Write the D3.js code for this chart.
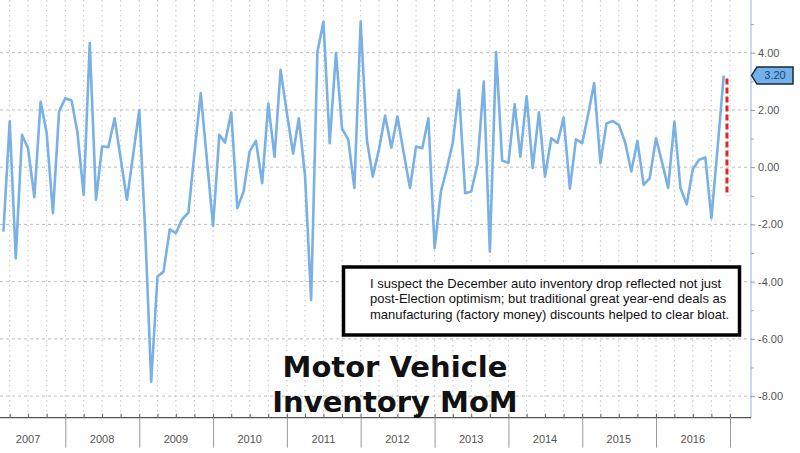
<!DOCTYPE html>
<html>
<head>
<meta charset="utf-8">
<script src="https://cdn.jsdelivr.net/npm/d3@7"></script>
<style>
body { margin: 0; background: #fff; }
svg { display: block; }
</style>
</head>
<body>
<script>
var width = 800;
var height = 453;

// monthly MoM % change, first value is Mar 2007
var startMonth = "2007-03-01";
var inventoryMoM = [
    -2.25, 1.6, -3.18, 1.13, 0.65, -1.05, 2.29, 1.19, -1.61, 1.94,
    2.41, 2.33, 1.22, -0.97, 4.34, -1.14, 0.72, 0.70, 1.71, 0.3, -1.14, 0.4,
    2.0, -2.5, -7.5, -3.82, -3.65, -2.17, -2.31, -1.82, -1.59, 0.5, 2.59, 0.3,
    -2.05, 1.13, 0.86, 1.91, -1.43, -0.85, 0.55, 0.92, -0.56, 2.22, 0.36, 3.40,
    1.9, 0.47, 1.71, -0.3, -4.64, 4.02, 5.09, 0.84, 4.0, 1.35, 0.95, -0.73,
    5.09, 0.95, -0.33, 0.64, 1.8, 0.68, 1.77, 0.5, -0.73, 0.72, 0.66, 1.71,
    -2.83, -0.85, -0.1, 0.87, 2.70, -0.91, -0.85, 0.1, 2.99, -2.95, 4.02, 0.23,
    0.15, 2.2, 0.37, 2.48, -0.03, 1.92, -0.33, 1.01, 0.85, 1.73, -0.75, 0.97,
    0.84, 1.9, 2.94, 0.14, 1.53, 1.61, 1.48, 0.87, -0.15, 0.92, -0.62, -0.38,
    1.01, 0.14, -0.73, 1.59, -0.73, -1.3, -0.07, 0.26, 0.34, -1.78, 0.7, 3.2
];
var yearLabels = ["2007", "2008", "2009", "2010", "2011", "2012", "2013", "2014", "2015", "2016"];
var yTicks = [-8, -6, -4, -2, 0, 2, 4, 6];
var yMinorTicks = [-7, -5, -3, -1, 1, 3, 5];
var lastLabel = "3.20";
var markerDate = "2016-12-17";
var markerRange = [3.1, -1.0];
var titleLines = ["Motor Vehicle", "Inventory MoM"];
var noteLines = [
    "I suspect the December auto inventory drop reflected not just",
    "post-Election optimism; but traditional great year-end deals as",
    "manufacturing (factory money) discounts helped to clear bloat."
];

var parse = d3.timeParse("%Y-%m-%d");
var start = parse(startMonth);
var series = inventoryMoM.map(function(v, i) {
    return { date: d3.timeMonth.offset(start, i), value: v };
});

var plotRight = 751;
var plotBottom = 417.7;

var x = d3.scaleTime()
    .domain([new Date(2007, 0, 1), new Date(2017, 0, 1)])
    .range([-8.5, 730]);
var y = d3.scaleLinear()
    .domain([-8, 4])
    .range([396.1, 52.7]);

var svg = d3.select("body")
    .append("svg")
    .attr("width", width)
    .attr("height", height)
    .style("font-family", "'Liberation Sans', Arial, sans-serif");

// grid
var quarters = d3.timeMonth.every(3).range(new Date(2007, 0, 1), new Date(2017, 0, 2))
    .filter(function(d) { return x(d) >= 0; });

svg.append("g")
    .selectAll("line")
    .data(quarters)
    .enter()
    .append("line")
    .attr("x1", function(d) { return x(d); })
    .attr("x2", function(d) { return x(d); })
    .attr("y1", 0)
    .attr("y2", plotBottom)
    .attr("stroke", "#c4c4c4")
    .attr("stroke-width", 1)
    .attr("stroke-dasharray", "1.5,3.5");

svg.append("g")
    .selectAll("line")
    .data(yTicks)
    .enter()
    .append("line")
    .attr("x1", 0)
    .attr("x2", plotRight)
    .attr("y1", function(d) { return y(d); })
    .attr("y2", function(d) { return y(d); })
    .attr("stroke", "#c2bcb6")
    .attr("stroke-width", 1)
    .attr("stroke-dasharray", "3,3");

// the series
var line = d3.line()
    .x(function(d) { return x(d.date); })
    .y(function(d) { return y(d.value); });

svg.append("path")
    .datum(series)
    .attr("d", line)
    .attr("fill", "none")
    .attr("stroke", "#79b1e4")
    .attr("stroke-width", 2.6)
    .attr("stroke-linejoin", "round");

// red dashed marker
var mx = x(parse(markerDate));
svg.append("line")
    .attr("x1", mx)
    .attr("x2", mx)
    .attr("y1", y(markerRange[0]))
    .attr("y2", y(markerRange[1]))
    .attr("stroke", "#e0262b")
    .attr("stroke-width", 3)
    .attr("stroke-dasharray", "6,3");

// right axis
svg.append("line")
    .attr("x1", plotRight)
    .attr("x2", plotRight)
    .attr("y1", 0)
    .attr("y2", plotBottom)
    .attr("stroke", "#a9c0d6")
    .attr("stroke-width", 1.2);

var yAxis = svg.append("g")
    .attr("transform", "translate(" + plotRight + ",0)")
    .call(d3.axisRight(y)
        .tickValues(yTicks)
        .tickSize(4)
        .tickPadding(3)
        .tickFormat(function(d) { return d.toFixed(2); }));
yAxis.select(".domain").remove();
yAxis.selectAll("line").attr("stroke", "#8a9aaa");
yAxis.selectAll("text")
    .attr("fill", "#555")
    .style("font-size", "11px");

var yMinor = svg.append("g")
    .attr("transform", "translate(" + plotRight + ",0)")
    .call(d3.axisRight(y).tickValues(yMinorTicks).tickSize(3).tickFormat(""));
yMinor.select(".domain").remove();
yMinor.selectAll("line").attr("stroke", "#9aaaba");

// last value tag
var ty = y(inventoryMoM[inventoryMoM.length - 1]);
svg.append("path")
    .attr("d", "M" + (plotRight + 0.5) + "," + ty +
        "L" + (plotRight + 6) + "," + (ty - 8.5) +
        "L793," + (ty - 8.5) +
        "L793," + (ty + 8.5) +
        "L" + (plotRight + 6) + "," + (ty + 8.5) + "Z")
    .attr("fill", "#72b1ea")
    .attr("stroke", "#1d2935")
    .attr("stroke-width", 1.5);
svg.append("text")
    .attr("x", 775)
    .attr("y", ty)
    .attr("dy", "0.35em")
    .attr("text-anchor", "middle")
    .attr("fill", "#1d3f7c")
    .style("font-size", "11px")
    .text(lastLabel);

// bottom axis
svg.append("line")
    .attr("x1", 0)
    .attr("x2", plotRight)
    .attr("y1", plotBottom)
    .attr("y2", plotBottom)
    .attr("stroke", "#555")
    .attr("stroke-width", 1.2);

var qTicks = svg.append("g")
    .attr("transform", "translate(0," + plotBottom + ")")
    .call(d3.axisTop(x).tickValues(quarters).tickSize(4).tickFormat(""));
qTicks.select(".domain").remove();
qTicks.selectAll("line").attr("stroke", "#666");

var yearStarts = yearLabels.map(function(s) { return new Date(+s + 1, 0, 1); });
var dividers = svg.append("g")
    .attr("transform", "translate(0," + plotBottom + ")")
    .call(d3.axisBottom(x).tickValues(yearStarts).tickSize(30).tickFormat(""));
dividers.select(".domain").remove();
dividers.selectAll("line").attr("stroke", "#999");

svg.append("g")
    .selectAll("text")
    .data(yearLabels)
    .enter()
    .append("text")
    .attr("x", function(d) { return x(new Date(+d, 6, 1)); })
    .attr("y", 443)
    .attr("text-anchor", "middle")
    .attr("fill", "#555")
    .style("font-size", "11px")
    .text(function(d) { return d; });

// title
svg.append("g")
    .selectAll("text")
    .data(titleLines)
    .enter()
    .append("text")
    .attr("x", 395)
    .attr("y", function(d, i) { return 376.7 + i * 35; })
    .attr("text-anchor", "middle")
    .attr("fill", "#111")
    .style("font-family", "'DejaVu Sans', Verdana, sans-serif")
    .style("font-weight", "bold")
    .style("font-size", "29px")
    .text(function(d) { return d; });

// note box
svg.append("rect")
    .attr("x", 343.5)
    .attr("y", 267)
    .attr("width", 396)
    .attr("height", 68)
    .attr("fill", "#fff")
    .attr("stroke", "#000")
    .attr("stroke-width", 3.5);

svg.append("g")
    .selectAll("text")
    .data(noteLines)
    .enter()
    .append("text")
    .attr("x", 370)
    .attr("y", function(d, i) { return 288 + i * 15.3; })
    .attr("fill", "#111")
    .style("font-size", "13px")
    .text(function(d) { return d; });
</script>
</body>
</html>
